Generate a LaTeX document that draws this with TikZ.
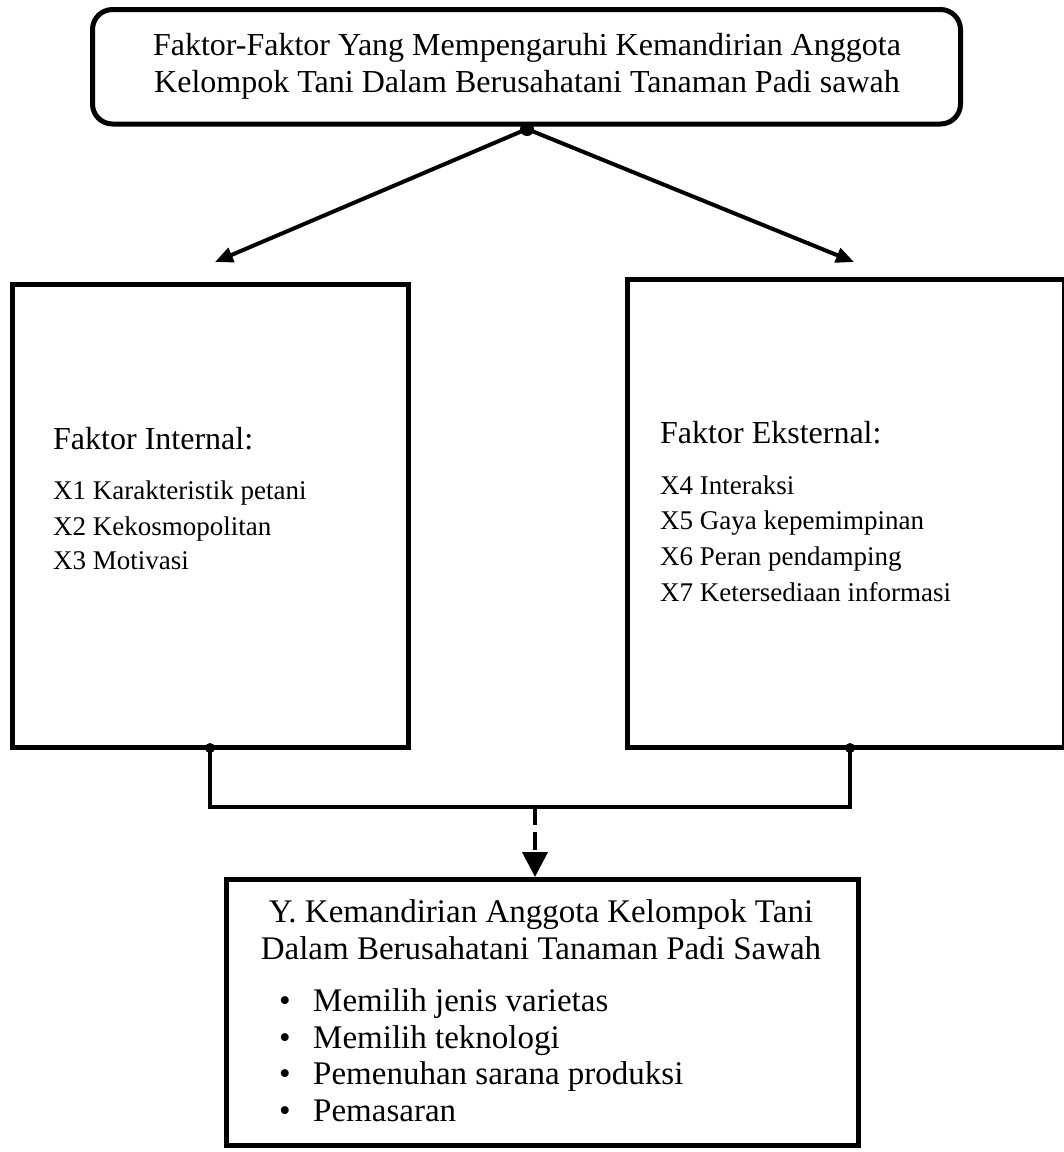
\documentclass[tikz,border=0pt]{standalone}
\usepackage{fontspec}
\setmainfont{Liberation Serif}
\usetikzlibrary{arrows.meta}
\tikzset{
  boxline/.style={draw=black, line width=5pt, inner sep=0pt},
  conn/.style={draw=black, line width=4pt},
  dotc/.style={circle, fill=black, inner sep=0pt, minimum size=#1},
  hdr/.style={anchor=base west, inner sep=0pt, font=\fontsize{32}{37}\selectfont},
  itm/.style={anchor=base west, inner sep=0pt, font=\fontsize{27}{32}\selectfont},
  btxt/.style={anchor=base west, inner sep=0pt, font=\fontsize{33}{36}\selectfont},
  bttl/.style={anchor=base, inner sep=0pt, font=\fontsize{33}{36}\selectfont},
}
\begin{document}
\begin{tikzpicture}[x=1pt,y=-1pt]
\useasboundingbox (0,0) rectangle (1064,1152);
% boxes
\node[boxline, rounded corners=20pt, minimum width=868pt, minimum height=114.5pt] (top) at (526.5,66.75) {};
\node[anchor=base, inner sep=0pt, font=\fontsize{32}{37}\selectfont] (t1) at (527,55) {Faktor-Faktor Yang Mempengaruhi Kemandirian Anggota};
\node[anchor=base, inner sep=0pt, font=\fontsize{32}{37}\selectfont] (t2) at (527,92) {Kelompok Tani Dalam Berusahatani Tanaman Padi sawah};
\node[boxline, minimum width=396pt, minimum height=462.5pt] (left) at (210,515.75) {};
\node[boxline, minimum width=437pt, minimum height=467.5pt] (right) at (845.5,513.25) {};
\node[boxline, minimum width=632pt, minimum height=266pt] (bot) at (542.5,1012.5) {};
% left texts
\node[hdr] (lh) at (53,449) {Faktor Internal:};
\node[itm] (l1) at (53,499) {X1 Karakteristik petani};
\node[itm] (l2) at (53,535) {X2 Kekosmopolitan};
\node[itm] (l3) at (53,569) {X3 Motivasi};
% right texts
\node[hdr] (rh) at (660,443) {Faktor Eksternal:};
\node[itm] (r1) at (660,494) {X4 Interaksi};
\node[itm] (r2) at (660,529) {X5 Gaya kepemimpinan};
\node[itm] (r3) at (660,565) {X6 Peran pendamping};
\node[itm] (r4) at (660,601) {X7 Ketersediaan informasi};
% bottom texts
\node[bttl] (bt1) at (541,922) {Y. Kemandirian Anggota Kelompok Tani};
\node[bttl] (bt2) at (541,959) {Dalam Berusahatani Tanaman Padi Sawah};
\node[btxt] (b1) at (279,1011) {\textbullet};
\node[btxt] (b1t) at (313,1011) {Memilih jenis varietas};
\node[btxt] (b2) at (279,1048) {\textbullet};
\node[btxt] (b2t) at (313,1048) {Memilih teknologi};
\node[btxt] (b3) at (279,1084) {\textbullet};
\node[btxt] (b3t) at (313,1084) {Pemenuhan sarana produksi};
\node[btxt] (b4) at (279,1121) {\textbullet};
\node[btxt] (b4t) at (313,1121) {Pemasaran};
% connectors top
\node[dotc=14pt] (tdot) at (527,129) {};
\coordinate (ltip) at (215,262);
\coordinate (rtip) at (854,262);
\draw[conn, -{Triangle[length=18pt,width=15pt]}] (tdot.center) -- (ltip);
\draw[conn, -{Triangle[length=18pt,width=15pt]}] (tdot.center) -- (rtip);
% connectors bottom
\node[dotc=10pt] (ldot) at (210,748) {};
\node[dotc=10pt] (rdot) at (850,748) {};
\coordinate (jn) at (535,807);
\draw[conn, line cap=rect] (ldot.center) |- (jn) -| (rdot.center);
\draw[conn, dash pattern=on 18pt off 7pt, -{Triangle[length=25pt,width=25pt]}] (jn) -- (jn |- bot.north);
\end{tikzpicture}
\end{document}
